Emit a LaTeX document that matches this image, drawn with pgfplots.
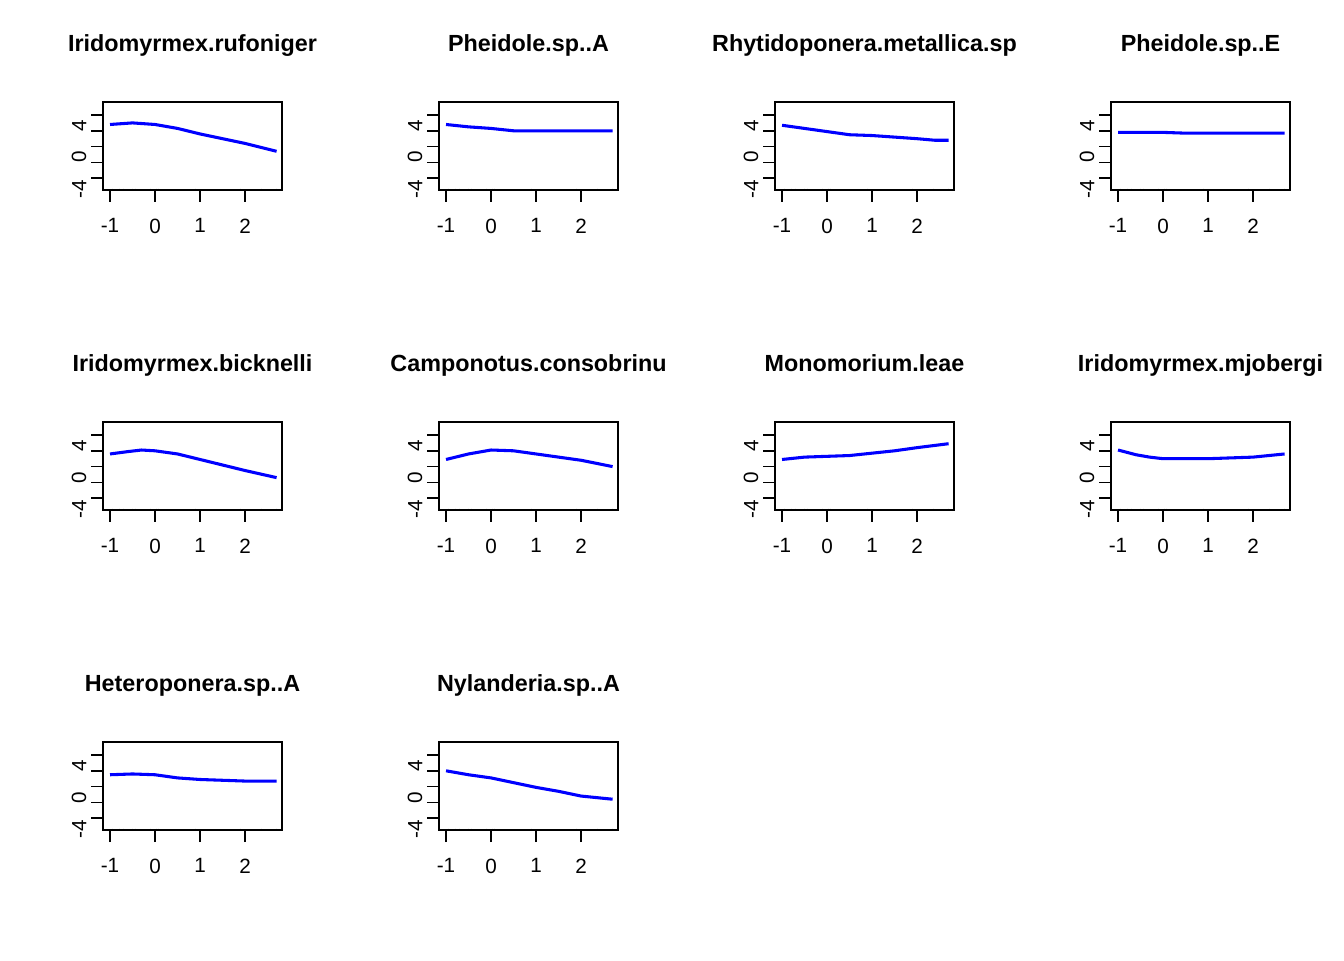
\documentclass[border=0pt]{standalone}
\usepackage{pgfplots}
\pgfplotsset{compat=1.18}
\usepackage{fontspec}
\setmainfont{Liberation Sans}
\pgfplotsset{pan/.style={
  scale only axis, width=134.25pt, height=66pt, anchor=south west,
  xmin=-1.156, xmax=2.82, ymin=-5.5, ymax=5.65,
  axis line style={line width=1.1pt}, every tick/.style={black,line width=1.1pt},
  xtick={-1,0,1,2}, xticklabels={-1,0,1,2}, ytick={-4,-2,0,2,4}, yticklabels={-4,,0,,4},
  tick align=outside, xtick pos=bottom, ytick pos=left,
  major tick length=9pt,
  xticklabel style={font=\fontsize{15.5}{17}\selectfont, yshift=-9pt},
  yticklabel style={font=\fontsize{15.5}{17}\selectfont, rotate=90, anchor=south, xshift=-8pt},
  /pgf/number format/assume math mode=true,
  title style={at={(0.5,1)}, anchor=base, yshift=32pt, font=\bfseries\fontsize{17.5}{19}\selectfont},
  clip=false,
}}
\newcommand{\rug}{\addplot[only marks, mark=|, mark size=1pt, black, line width=0.4pt] coordinates {(-0.95,-5.5)(-0.8,-5.5)(-0.7,-5.5)(-0.5,-5.5)(-0.45,-5.5)(-0.1,-5.5)(0.02,-5.5)(0.08,-5.5)(0.9,-5.5)(1.9,-5.5)(2.35,-5.5)(2.7,-5.5)};}
\begin{document}
\begin{tikzpicture}
\path (0,0) rectangle (1008pt,720pt);
\begin{axis}[pan, at={(77.25pt,577.5pt)}, title={Iridomyrmex.rufoniger}]
\addplot[blue,line width=2.3pt] coordinates {(-1,2.8)(-0.5,3.0)(0,2.8)(0.5,2.3)(1,1.6)(1.5,1.0)(2,0.4)(2.7,-0.6)}; \rug
\end{axis}
\begin{axis}[pan, at={(329.25pt,577.5pt)}, title={Pheidole.sp..A}]
\addplot[blue,line width=2.3pt] coordinates {(-1,2.8)(-0.5,2.5)(0,2.3)(0.5,2.0)(1,2.0)(2,2.0)(2.7,2.0)}; \rug
\end{axis}
\begin{axis}[pan, at={(581.25pt,577.5pt)}, title={Rhytidoponera.metallica.sp}]
\addplot[blue,line width=2.3pt] coordinates {(-1,2.7)(-0.5,2.3)(0,1.9)(0.5,1.5)(1,1.4)(1.5,1.2)(2,1.0)(2.4,0.8)(2.7,0.8)}; \rug
\end{axis}
\begin{axis}[pan, at={(833.25pt,577.5pt)}, title={Pheidole.sp..E}]
\addplot[blue,line width=2.3pt] coordinates {(-1,1.8)(0,1.8)(0.5,1.7)(1,1.7)(2,1.7)(2.7,1.7)}; \rug
\end{axis}
\begin{axis}[pan, at={(77.25pt,337.5pt)}, title={Iridomyrmex.bicknelli}]
\addplot[blue,line width=2.3pt] coordinates {(-1,1.6)(-0.6,1.9)(-0.3,2.1)(0,2.0)(0.5,1.6)(1,0.9)(1.5,0.2)(2,-0.5)(2.7,-1.4)}; \rug
\end{axis}
\begin{axis}[pan, at={(329.25pt,337.5pt)}, title={Camponotus.consobrinu}]
\addplot[blue,line width=2.3pt] coordinates {(-1,0.9)(-0.5,1.6)(0,2.1)(0.5,2.0)(1,1.6)(1.5,1.2)(2,0.8)(2.7,0.0)}; \rug
\end{axis}
\begin{axis}[pan, at={(581.25pt,337.5pt)}, title={Monomorium.leae}]
\addplot[blue,line width=2.3pt] coordinates {(-1,0.9)(-0.5,1.2)(0,1.3)(0.5,1.4)(1,1.7)(1.5,2.0)(2,2.4)(2.7,2.9)}; \rug
\end{axis}
\begin{axis}[pan, at={(833.25pt,337.5pt)}, title={Iridomyrmex.mjobergi}]
\addplot[blue,line width=2.3pt] coordinates {(-1,2.1)(-0.6,1.5)(-0.3,1.2)(0,1.0)(0.5,1.0)(1,1.0)(1.5,1.1)(2,1.2)(2.7,1.6)}; \rug
\end{axis}
\begin{axis}[pan, at={(77.25pt,97.5pt)}, title={Heteroponera.sp..A}]
\addplot[blue,line width=2.3pt] coordinates {(-1,1.5)(-0.5,1.6)(0,1.5)(0.5,1.1)(1,0.9)(1.5,0.8)(2,0.7)(2.7,0.7)}; \rug
\end{axis}
\begin{axis}[pan, at={(329.25pt,97.5pt)}, title={Nylanderia.sp..A}]
\addplot[blue,line width=2.3pt] coordinates {(-1,2.0)(-0.5,1.5)(0,1.1)(0.5,0.5)(1,-0.1)(1.5,-0.6)(2,-1.2)(2.7,-1.6)}; \rug
\end{axis}
\end{tikzpicture}
\end{document}
